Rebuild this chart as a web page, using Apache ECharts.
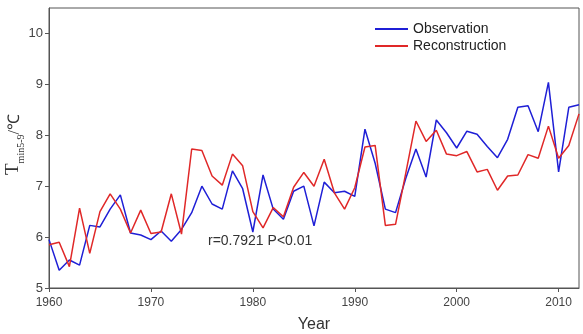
<!DOCTYPE html>
<html><head><meta charset="utf-8">
<script src="https://cdn.jsdelivr.net/npm/echarts@6/dist/echarts.min.js"></script>
<style>html,body{margin:0;padding:0;background:#fff}#c{width:583px;height:334px}</style>
</head><body><div id="c"></div>
<script>
const years = [];
for (let y = 1960; y <= 2012; y++) years.push(y);
const observation = [5.95,5.35,5.55,5.45,6.23,6.2,6.55,6.83,6.08,6.04,
  5.95,6.12,5.92,6.15,6.48,7.0,6.65,6.55,7.3,6.95,
  6.1,7.22,6.55,6.35,6.9,7.0,6.22,7.08,6.87,6.9,
  6.8,8.12,7.45,6.55,6.48,7.15,7.73,7.18,8.3,8.05,
  7.75,8.08,8.02,7.78,7.56,7.92,8.55,8.58,8.07,9.04,
  7.28,8.55,8.6];
const reconstruction = [5.85,5.9,5.42,6.57,5.68,6.5,6.85,6.55,6.08,6.53,
  6.07,6.1,6.85,6.06,7.73,7.7,7.2,7.02,7.63,7.4,
  6.5,6.18,6.58,6.4,6.98,7.27,7.0,7.53,6.87,6.55,
  6.97,7.77,7.8,6.23,6.25,7.25,8.28,7.88,8.1,7.63,
  7.6,7.68,7.28,7.33,6.92,7.2,7.22,7.62,7.55,8.18,
  7.55,7.8,8.42];
const yTicks = [5,6,7,8,9,10];
const xTicks = [1960,1970,1980,1990,2000,2010];

const chart = echarts.init(document.getElementById('c'));
chart.setOption({
  animation: false,
  grid: {left: 49, right: 4, top: 8, bottom: 46, show: true, borderColor: '#555', borderWidth: 1,
    containLabel: false, outerBoundsMode: 'none'},
  legend: {
    orient: 'vertical', left: 370, top: 17, itemGap: 3, itemWidth: 33, itemHeight: 2,
    icon: 'rect',
    textStyle: {fontFamily: 'Liberation Sans', fontSize: 14, color: '#222'},
    data: ['Observation', 'Reconstruction']
  },
  xAxis: {
    type: 'value', min: 1960, max: 2012, interval: 10,
    name: 'Year', nameLocation: 'middle', nameGap: 29,
    nameTextStyle: {fontFamily: 'Liberation Sans', fontSize: 16, color: '#333'},
    axisLine: {lineStyle: {color: '#555'}},
    axisTick: {show: true, length: 4, lineStyle: {color: '#555'}},
    axisLabel: {fontFamily: 'Liberation Sans', fontSize: 12, color: '#444', showMaxLabel: false, margin: 9,
      formatter: v => String(v)},
    splitLine: {show: false}
  },
  yAxis: {
    type: 'value', min: 5, max: 10.5, interval: 1,
    axisLine: {show: true, lineStyle: {color: '#555'}},
    axisTick: {show: true, length: 4, lineStyle: {color: '#555'}},
    axisLabel: {fontFamily: 'Liberation Sans', fontSize: 13, color: '#444', showMaxLabel: false, margin: 6},
    splitLine: {show: false}
  },
  graphic: [
    {type: 'text', left: 208, top: 234, style: {text: 'r=0.7921 P<0.01', font: '14px "Liberation Sans"', fill: '#333'}},
    {type: 'text', x: 4, y: 175, rotation: Math.PI/2, style: {
      text: '{t|T}{s|min5-9}{u|/℃}',
      rich: {
        t: {fontFamily: 'Liberation Serif', fontSize: 19, fill: '#333', verticalAlign: 'bottom'},
        s: {fontFamily: 'Liberation Serif', fontSize: 10, fill: '#333', verticalAlign: 'bottom', padding: [0,0,-3,0]},
        u: {fontFamily: 'Liberation Serif', fontSize: 16, fill: '#333', verticalAlign: 'bottom'}
      }
    }}
  ],
  series: [
    {name: 'Observation', type: 'line', data: years.map((y,i)=>[y, observation[i]]),
     showSymbol: false, symbol: 'none', lineStyle: {color: '#1f1fd6', width: 1.5}, itemStyle: {color: '#1f1fd6'}},
    {name: 'Reconstruction', type: 'line', data: years.map((y,i)=>[y, reconstruction[i]]),
     showSymbol: false, symbol: 'none', lineStyle: {color: '#e02828', width: 1.5}, itemStyle: {color: '#e02828'}}
  ]
});
</script></body></html>
